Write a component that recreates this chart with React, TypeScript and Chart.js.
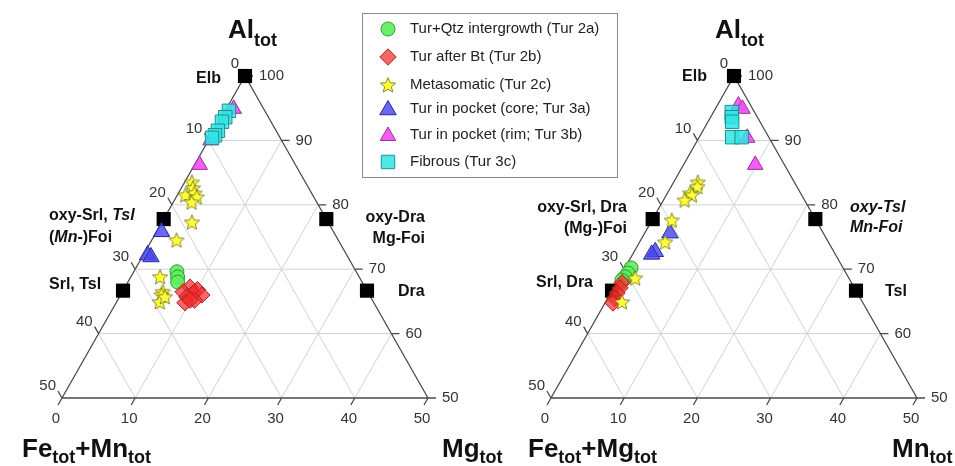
import React, { useEffect, useRef } from 'react';
import { Chart, registerables } from 'chart.js';
import { drawPoint } from 'chart.js/helpers';
Chart.register(...registerables);

const FONT = '"Liberation Sans", Arial, Helvetica, sans-serif';

// Ternary values: [Al_tot, third component]
// Left diagram: third = Mg_tot (Fe_tot+Mn_tot is the remainder)
const leftTur2a = [[69.6, 5.9], [68.8, 6.4], [68.0, 6.8]];
const leftTur2b = [[67.2, 8.9], [66.8, 10.1], [66.5, 8.3], [66.3, 9.8], [65.7, 9.2], [66.0, 11.1], [65.2, 10.5], [64.8, 9.4], [65.2, 9.9]];
const leftTur2c = [[83.5, 1.0], [82.6, 1.6], [81.5, 1.1], [81.8, 2.2], [81.2, 2.8], [80.4, 2.5], [77.3, 4.1], [74.5, 3.4], [68.8, 4.0], [66.5, 5.5], [66.0, 5.6], [64.9, 5.9], [65.7, 6.2]];
const leftTur3a = [[75.8, 0.7], [72.2, 0.6], [71.9, 1.2]];
const leftTur3b = [[94.9, 1.0], [90.0, 0.3], [86.2, 0.7]];
const leftTur3c = [[94.6, 0.5], [93.6, 0.5], [92.9, 0.4], [91.5, 0.55], [90.8, 0.5], [90.4, 0.3]];
const leftEndMembers = [[100, 0], [77.78, 0], [66.67, 0], [77.78, 22.22], [66.67, 33.33]];

// Right diagram: third = Mn_tot (Fe_tot+Mg_tot is the remainder)
const rightTur2a = [[70.2, 0.84], [69.4, 0.81], [68.8, 0.72], [68.3, 0.54]];
const rightTur2b = [[67.9, 0.77], [67.1, 0.89], [66.3, 0.87], [65.5, 0.98], [64.75, 1.09]];
const rightTur2c = [[83.5, 3.3], [82.8, 3.6], [81.8, 3.1], [81.5, 3.5], [80.7, 2.9], [77.6, 2.7], [74.2, 3.5], [68.6, 2.2], [64.9, 2.25]];
const rightTur3a = [[75.6, 3.45], [72.7, 2.9], [72.3, 2.6]];
const rightTur3b = [[95.4, 2.9], [94.9, 3.7], [90.4, 6.6], [86.2, 9.8]];
const rightTur3c = [[94.4, 2.5], [93.6, 2.9], [92.9, 3.3], [90.5, 4.5], [90.5, 5.8]];
const rightEndMembers = [[100, 0], [77.78, 0], [66.67, 0], [77.78, 22.22], [66.67, 33.33]];

const seriesNames = [
  'Tur+Qtz intergrowth (Tur 2a)',
  'Tur after Bt (Tur 2b)',
  'Metasomatic (Tur 2c)',
  'Tur in pocket (core; Tur 3a)',
  'Tur in pocket (rim; Tur 3b)',
  'Fibrous (Tur 3c)',
];

const leftEdgeTicks = [0, 10, 20, 30, 40, 50];
const rightEdgeTicks = [100, 90, 80, 70, 60, 50];
const bottomTicks = [0, 10, 20, 30, 40, 50];
const gridAl = [60, 70, 80, 90];
const gridOther = [10, 20, 30, 40];

const X_MAX = 116.8;
const RIGHT_OFFSET = 66.8;

const toXY = (pts: number[][], off: number) => pts.map(([al, t]) => ({ x: off + t + (al - 50) / 2, y: al }));
const both = (l: number[][], r: number[][]) => [...toXY(l, 0), ...toXY(r, RIGHT_OFFSET)];

function makeStar(size: number, fill: string, stroke: string) {
  const c = document.createElement('canvas');
  c.width = size; c.height = size;
  const g = c.getContext('2d')!;
  const cx = size / 2, cy = size / 2 + 0.6, R = size / 2 - 1, r = R * 0.45;
  g.beginPath();
  for (let i = 0; i < 10; i++) {
    const ang = -Math.PI / 2 + (i * Math.PI) / 5;
    const rad = i % 2 === 0 ? R : r;
    g.lineTo(cx + rad * Math.cos(ang), cy + rad * Math.sin(ang));
  }
  g.closePath();
  g.fillStyle = fill; g.fill();
  g.strokeStyle = stroke; g.lineWidth = 0.8; g.stroke();
  return c;
}

type Run = { t: string; f: string; dy?: number };
function drawRuns(ctx: CanvasRenderingContext2D, runs: Run[], x: number, y: number, align: 'left' | 'right') {
  let w = 0;
  runs.forEach((r) => { ctx.font = r.f; w += ctx.measureText(r.t).width; });
  let cx = align === 'left' ? x : x - w;
  ctx.textAlign = 'left';
  runs.forEach((r) => {
    ctx.font = r.f;
    ctx.fillText(r.t, cx, y + (r.dy || 0));
    cx += ctx.measureText(r.t).width;
  });
}

export default function App() {
  const ref = useRef<HTMLCanvasElement>(null);
  useEffect(() => {
    const star = makeStar(18, '#ffff3a', '#6b6b10');
    const styles = [
      { pointStyle: 'circle', radius: 7, bg: 'rgba(95,238,95,0.92)', bd: '#2f9a2f' },
      { pointStyle: 'rectRot', radius: 8.2, bg: 'rgba(245,45,45,0.72)', bd: '#a82020' },
      { pointStyle: star, radius: 9, bg: '#ffff3a', bd: '#6b6b10' },
      { pointStyle: 'triangle', radius: 9.5, bg: 'rgba(70,70,240,0.82)', bd: '#2a2a90' },
      { pointStyle: 'triangle', radius: 9, bg: 'rgba(240,80,240,0.92)', bd: '#a030a0' },
      { pointStyle: 'rect', radius: 9.5, bg: 'rgba(50,228,228,0.85)', bd: '#1f8f8f' },
    ];
    const seriesData = [
      both(leftTur2a, rightTur2a),
      both(leftTur2b, rightTur2b),
      both(leftTur2c, rightTur2c),
      both(leftTur3a, rightTur3a),
      both(leftTur3b, rightTur3b),
      both(leftTur3c, rightTur3c),
    ];
    const orders = [4, 3, 2, 5, 6, 1];
    const datasets: any[] = seriesData.map((d, i) => ({
      label: seriesNames[i],
      data: d,
      pointStyle: styles[i].pointStyle,
      pointRadius: styles[i].radius,
      pointBackgroundColor: styles[i].bg,
      pointBorderColor: styles[i].bd,
      pointBorderWidth: 1,
      showLine: false,
      clip: false,
      order: orders[i],
    }));
    datasets.push({
      label: 'End members',
      data: both(leftEndMembers, rightEndMembers),
      pointStyle: 'rect',
      pointRadius: 10,
      pointBackgroundColor: '#000',
      pointBorderColor: '#000',
      pointBorderWidth: 0,
      showLine: false,
      clip: false,
      order: 10,
    });

    const ternaryPlugin = {
      id: 'ternary',
      beforeDatasetsDraw(chart: any) {
        const { ctx } = chart;
        const xs = chart.scales.x, ys = chart.scales.y;
        const P = (off: number, al: number, t: number) => [xs.getPixelForValue(off + t + (al - 50) / 2), ys.getPixelForValue(al)];
        const seg = (a: number[], b: number[]) => { ctx.moveTo(a[0], a[1]); ctx.lineTo(b[0], b[1]); };
        ctx.save();
        for (const off of [0, RIGHT_OFFSET]) {
          ctx.strokeStyle = '#d2d2d2';
          ctx.lineWidth = 1;
          ctx.beginPath();
          gridAl.forEach((al) => seg(P(off, al, 0), P(off, al, 100 - al)));
          gridOther.forEach((v) => {
            seg(P(off, 50, v), P(off, 100 - v, v));
            seg(P(off, 100 - v, 0), P(off, 50, 50 - v));
          });
          ctx.stroke();

          ctx.strokeStyle = '#4a4a4a';
          ctx.lineWidth = 1.3;
          ctx.beginPath();
          const A = P(off, 100, 0), L = P(off, 50, 0), R = P(off, 50, 50);
          ctx.moveTo(A[0], A[1]); ctx.lineTo(L[0], L[1]); ctx.lineTo(R[0], R[1]); ctx.closePath();
          leftEdgeTicks.forEach((v) => { const p = P(off, 100 - v, 0); seg(p, [p[0] - 4, p[1] - 7]); });
          bottomTicks.forEach((v) => { const p = P(off, 50, v); seg(p, [p[0] - 4, p[1] + 7]); });
          rightEdgeTicks.forEach((v) => { const p = P(off, v, 100 - v); seg(p, [p[0] + 8, p[1]]); });
          ctx.stroke();

          ctx.fillStyle = '#333';
          ctx.font = `15px ${FONT}`;
          ctx.textBaseline = 'middle';
          ctx.textAlign = 'right';
          leftEdgeTicks.forEach((v) => { const p = P(off, 100 - v, 0); ctx.fillText(String(v), p[0] - 6, p[1] - 12); });
          ctx.textAlign = 'center';
          bottomTicks.forEach((v) => { const p = P(off, 50, v); ctx.fillText(String(v), p[0] - 6, p[1] + 21); });
          ctx.textAlign = 'left';
          rightEdgeTicks.forEach((v) => { const p = P(off, v, 100 - v); ctx.fillText(String(v), p[0] + 14, p[1]); });
        }
        ctx.restore();
      },
      afterDraw(chart: any) {
        const { ctx } = chart;
        ctx.save();
        ctx.fillStyle = '#111';
        const big = `bold 26px ${FONT}`, bigSub = `bold 18px ${FONT}`;
        const ax = `bold 26px ${FONT}`, axSub = `bold 18px ${FONT}`;
        ctx.textBaseline = 'alphabetic';
        drawRuns(ctx, [{ t: 'Al', f: big }, { t: 'tot', f: bigSub, dy: 8 }], 228, 38, 'left');
        drawRuns(ctx, [{ t: 'Al', f: big }, { t: 'tot', f: bigSub, dy: 8 }], 715, 38, 'left');
        drawRuns(ctx, [{ t: 'Fe', f: ax }, { t: 'tot', f: axSub, dy: 6 }, { t: '+Mn', f: ax }, { t: 'tot', f: axSub, dy: 6 }], 22, 457, 'left');
        drawRuns(ctx, [{ t: 'Mg', f: ax }, { t: 'tot', f: axSub, dy: 6 }], 442, 457, 'left');
        drawRuns(ctx, [{ t: 'Fe', f: ax }, { t: 'tot', f: axSub, dy: 6 }, { t: '+Mg', f: ax }, { t: 'tot', f: axSub, dy: 6 }], 528, 457, 'left');
        drawRuns(ctx, [{ t: 'Mn', f: ax }, { t: 'tot', f: axSub, dy: 6 }], 892, 457, 'left');

        const b = `bold 16px ${FONT}`, bi = `italic bold 16px ${FONT}`;
        ctx.textBaseline = 'middle';
        drawRuns(ctx, [{ t: 'Elb', f: b }], 221, 79, 'right');
        drawRuns(ctx, [{ t: 'oxy-Srl, ', f: b }, { t: 'Tsl', f: bi }], 49, 216, 'left');
        drawRuns(ctx, [{ t: '(', f: b }, { t: 'Mn-', f: bi }, { t: ')Foi', f: b }], 49, 238, 'left');
        drawRuns(ctx, [{ t: 'Srl, Tsl', f: b }], 49, 285, 'left');
        drawRuns(ctx, [{ t: 'oxy-Dra', f: b }], 425, 218, 'right');
        drawRuns(ctx, [{ t: 'Mg-Foi', f: b }], 425, 239, 'right');
        drawRuns(ctx, [{ t: 'Dra', f: b }], 398, 292, 'left');
        drawRuns(ctx, [{ t: 'Elb', f: b }], 707, 77, 'right');
        drawRuns(ctx, [{ t: 'oxy-Srl, Dra', f: b }], 627, 208, 'right');
        drawRuns(ctx, [{ t: '(Mg-)Foi', f: b }], 627, 229, 'right');
        drawRuns(ctx, [{ t: 'Srl, Dra', f: b }], 593, 283, 'right');
        drawRuns(ctx, [{ t: 'oxy-Tsl', f: bi }], 850, 208, 'left');
        drawRuns(ctx, [{ t: 'Mn-Foi', f: bi }], 850, 228, 'left');
        drawRuns(ctx, [{ t: 'Tsl', f: b }], 885, 292, 'left');

        ctx.fillStyle = '#fff';
        ctx.fillRect(362.5, 13.5, 255, 164);
        ctx.strokeStyle = '#8a8a8a';
        ctx.lineWidth = 1;
        ctx.strokeRect(362.5, 13.5, 255, 164);
        const rows = [29, 57, 85, 109, 135, 162];
        rows.forEach((yy, i) => {
          const s = styles[i];
          ctx.fillStyle = s.bg;
          ctx.strokeStyle = s.bd;
          ctx.lineWidth = 1;
          drawPoint(ctx, { pointStyle: s.pointStyle as any, radius: s.radius, rotation: 0, borderWidth: 1 } as any, 388, yy + (s.pointStyle === 'triangle' ? 1 : 0));
          ctx.fillStyle = '#222';
          ctx.font = `15px ${FONT}`;
          ctx.textAlign = 'left';
          ctx.textBaseline = 'middle';
          ctx.fillText(seriesNames[i], 410, yy);
        });
        ctx.restore();
      },
    };

    const chart = new Chart(ref.current!, {
      type: 'scatter',
      data: { datasets },
      options: {
        animation: false,
        responsive: false,
        events: [],
        layout: { padding: { left: 62, right: 38, top: 76, bottom: 68 } },
        scales: {
          x: { type: 'linear', min: 0, max: X_MAX, display: false },
          y: { type: 'linear', min: 50, max: 100, display: false },
        },
        plugins: { legend: { display: false }, tooltip: { enabled: false } },
      },
      plugins: [ternaryPlugin],
    } as any);
    return () => chart.destroy();
  }, []);
  return (
    <div style={{ position: 'fixed', left: 0, top: 0, width: 955, height: 466, background: '#fff' }}>
      <canvas ref={ref} width={955} height={466} style={{ display: 'block' }} />
    </div>
  );
}
